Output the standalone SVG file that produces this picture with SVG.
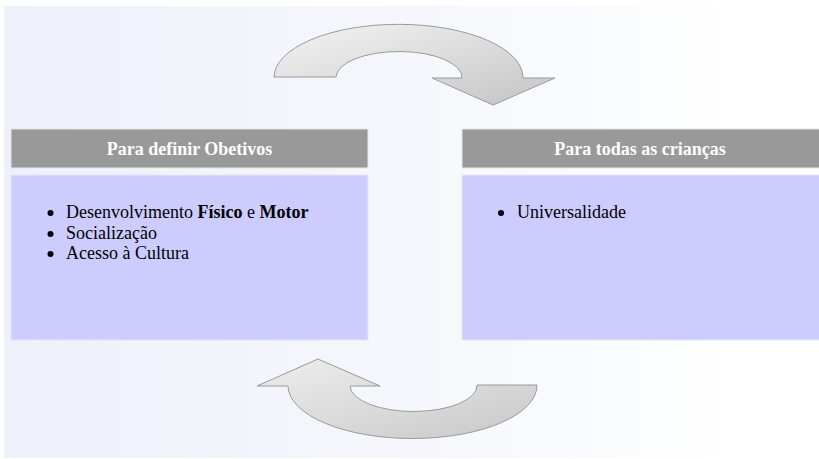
<svg xmlns="http://www.w3.org/2000/svg" width="819" height="459" viewBox="0 0 819 459">
<defs>
<linearGradient id="bg" x1="0" y1="0" x2="1" y2="0">
<stop offset="0" stop-color="#eef1fa"/>
<stop offset="0.5" stop-color="#f5f7fc"/>
<stop offset="0.9" stop-color="#ffffff"/>
</linearGradient>
<linearGradient id="arr" x1="0" y1="0" x2="1" y2="1">
<stop offset="0" stop-color="#f4f4f4"/>
<stop offset="1" stop-color="#c4c4c4"/>
</linearGradient>
<linearGradient id="arr2" x1="0" y1="0" x2="1" y2="1">
<stop offset="0" stop-color="#eeeeee"/>
<stop offset="1" stop-color="#c8c8c8"/>
</linearGradient>
</defs>
<style>
.hdr{fill:#999999;stroke:#e6e6e6;stroke-width:1}
.body{fill:#ccccff;stroke:#e6e6f4;stroke-width:1}
.ht{font-family:"Liberation Serif",serif;font-size:18px;font-weight:bold;fill:#ffffff;text-anchor:middle}
.li{font-family:"Liberation Serif",serif;font-size:18px;fill:#000000}
.arrow{stroke:#9a9a9a;stroke-width:1}
</style>
<rect x="4" y="6" width="815" height="452" fill="url(#bg)"/>
<g id="connectors">
<path class="arrow" fill="url(#arr)" d="M274,77 A124,53 0 0 1 523,78 L555,78 L493,105 L432,78 L462,78 A63,26 0 0 0 336,77 Z"/>
<path class="arrow" fill="url(#arr2)" d="M537,385 A124.5,53 0 0 1 288,386 L257,386 L318,359 L380,386 L350,386 A63.5,26 0 0 0 477,385 Z"/>
</g>
<g id="node-left">
<rect class="hdr" x="11" y="129" width="357" height="39"/>
<text class="ht" x="189.5" y="155">Para definir Obetivos</text>
<rect class="body" x="11" y="175" width="357" height="165"/>
<circle cx="50.5" cy="213" r="3" fill="#000"/>
<text class="li" x="66" y="218">Desenvolvimento <tspan font-weight="bold">Físico</tspan> e <tspan font-weight="bold">Motor</tspan></text>
<circle cx="50.5" cy="234" r="3" fill="#000"/>
<text class="li" x="66" y="239">Socialização</text>
<circle cx="50.5" cy="254" r="3" fill="#000"/>
<text class="li" x="66" y="259">Acesso à Cultura</text>
</g>
<g id="node-right">
<rect class="hdr" x="462" y="129" width="358" height="39"/>
<text class="ht" x="640" y="155">Para todas as crianças</text>
<rect class="body" x="462" y="175" width="358" height="165"/>
<circle cx="501" cy="213" r="3" fill="#000"/>
<text class="li" x="517" y="218">Universalidade</text>
</g>
</svg>
